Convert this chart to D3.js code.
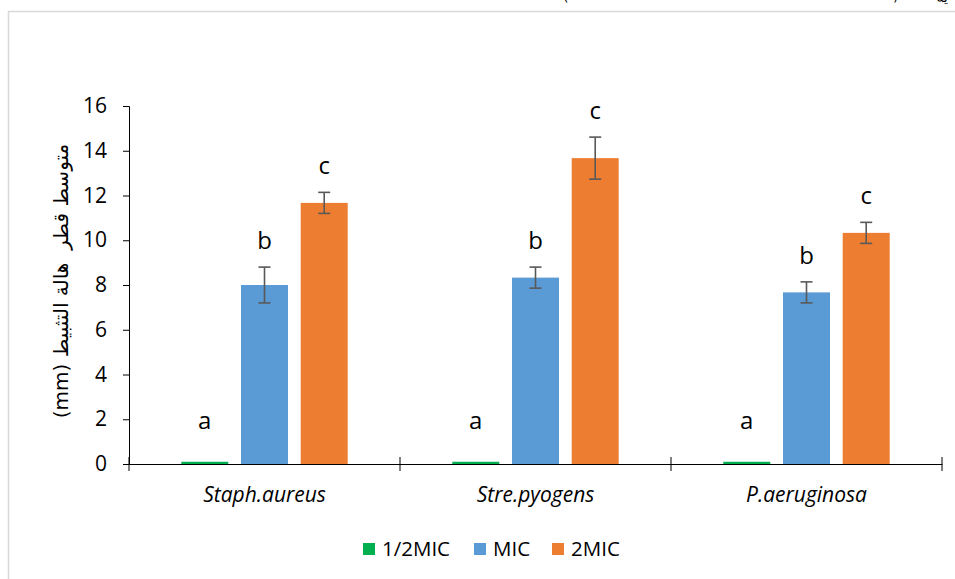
<!DOCTYPE html>
<html>
<head>
<meta charset="utf-8">
<script src="https://cdn.jsdelivr.net/npm/d3@7"></script>
<style>
  body { margin: 0; background: #fff; }
  svg { display: block; }
</style>
</head>
<body>
<div id="chart"></div>
<script>
// chart data
const categories = ["Staph.aureus", "Stre.pyogens", "P.aeruginosa"];
const series = ["1/2MIC", "MIC", "2MIC"];
const halfMIC = [0.1, 0.1, 0.1];
const mic = [8.0, 8.33, 7.67];
const twoMIC = [11.67, 13.67, 10.33];
const micErr = [0.8, 0.47, 0.47];
const twoMICErr = [0.47, 0.94, 0.47];
const letters = ["a", "b", "c"];
const yTicks = [0, 2, 4, 6, 8, 10, 12, 14, 16];

const colors = ["#00b050", "#5b9bd5", "#ed7d31"];

const width = 955, height = 579;
const font = "'Open Sans', Lato, sans-serif";

const svg = d3.select("#chart")
    .append("svg")
    .attr("width", width)
    .attr("height", height);

// chart frame (runs past the page)
svg.append("rect")
    .attr("x", 8.5)
    .attr("y", 11.5)
    .attr("width", 970)
    .attr("height", 600)
    .attr("fill", "#fff")
    .attr("stroke", "#d9d9d9")
    .attr("stroke-width", 1.5);

// bits of a caption cut off above the page
svg.append("text").attr("x", 563).attr("y", 1).attr("font-size", 14).attr("font-family", "DejaVu Sans").text("(");
svg.append("text").attr("x", 893).attr("y", 1).attr("font-size", 14).attr("font-family", "DejaVu Sans").text(")");
svg.append("text").attr("x", 948).attr("y", 2).attr("font-size", 14).attr("font-family", "DejaVu Sans").attr("text-anchor", "end").text("ية");

const plotLeft = 129, plotRight = 942, plotTop = 106, plotBottom = 464;

const y = d3.scaleLinear().domain([0, 16]).range([plotBottom, plotTop]);

const x0 = d3.scaleBand()
    .domain(categories)
    .range([plotLeft, plotRight])
    .padding(0);

const x1 = d3.scaleBand()
    .domain(series)
    .range([0, x0.bandwidth()])
    .paddingInner(0.213)
    .paddingOuter(0.876);

const rows = categories.map((c, i) => ({
    cat: c,
    vals: [
        {s: series[0], v: halfMIC[i], e: 0, l: letters[0]},
        {s: series[1], v: mic[i], e: micErr[i], l: letters[1]},
        {s: series[2], v: twoMIC[i], e: twoMICErr[i], l: letters[2]}
    ]
}));

// bars
const groups = svg.selectAll(".grp")
    .data(rows)
    .enter()
    .append("g")
    .attr("class", "grp")
    .attr("transform", d => `translate(${x0(d.cat)},0)`);

groups.selectAll("rect")
    .data(d => d.vals)
    .enter()
    .append("rect")
    .attr("x", d => x1(d.s))
    .attr("y", d => y(d.v))
    .attr("width", x1.bandwidth())
    .attr("height", d => y(0) - y(d.v))
    .attr("fill", (d, i) => colors[i]);

// error bars
const eb = groups.selectAll(".err")
    .data(d => d.vals.filter(v => v.e > 0))
    .enter()
    .append("g")
    .attr("class", "err")
    .attr("stroke", "#595959")
    .attr("stroke-width", 1.6);

const cx = d => x1(d.s) + x1.bandwidth() / 2;
eb.append("line")
    .attr("x1", cx).attr("x2", cx)
    .attr("y1", d => y(d.v + d.e)).attr("y2", d => y(d.v - d.e));
eb.append("line")
    .attr("x1", d => cx(d) - 6).attr("x2", d => cx(d) + 6)
    .attr("y1", d => y(d.v + d.e)).attr("y2", d => y(d.v + d.e));
eb.append("line")
    .attr("x1", d => cx(d) - 6).attr("x2", d => cx(d) + 6)
    .attr("y1", d => y(d.v - d.e)).attr("y2", d => y(d.v - d.e));

// significance letters
groups.selectAll(".lbl")
    .data(d => d.vals)
    .enter()
    .append("text")
    .attr("class", "lbl")
    .attr("x", cx)
    .attr("y", d => Math.min(y(d.v + d.e) - 18, y(0) - 35))
    .attr("text-anchor", "middle")
    .attr("font-family", font)
    .attr("font-size", 24)
    .text(d => d.l);

// y axis
const yAxis = svg.append("g")
    .attr("transform", `translate(${plotLeft},0)`)
    .call(d3.axisLeft(y).tickValues(yTicks).tickSize(6).tickPadding(16));
yAxis.select(".domain").attr("stroke", "#000");
yAxis.selectAll(".tick line").attr("stroke", "#000");
yAxis.selectAll(".tick text")
    .attr("font-family", font)
    .attr("font-size", 21)
    .attr("fill", "#000");

// x axis
const xAxis = svg.append("g")
    .attr("transform", `translate(0,${plotBottom})`)
    .call(d3.axisBottom(x0).tickSize(0).tickPadding(23));
xAxis.select(".domain").attr("stroke", "#000");
xAxis.selectAll(".tick text")
    .attr("font-family", font)
    .attr("font-size", 21)
    .attr("font-style", "italic")
    .attr("fill", "#000");

// category separators crossing the x axis
const seps = [plotLeft].concat(categories.map(c => x0(c) + x0.bandwidth()));
svg.selectAll(".sep")
    .data(seps)
    .enter()
    .append("line")
    .attr("x1", d => d).attr("x2", d => d)
    .attr("y1", plotBottom - 7).attr("y2", plotBottom + 7)
    .attr("stroke", "#000");

// y axis title
svg.append("text")
    .attr("transform", `translate(68,${(plotTop + plotBottom) / 2 - 4}) rotate(-90)`)
    .attr("text-anchor", "middle")
    .attr("direction", "rtl")
    .style("white-space", "pre")
    .attr("font-family", "'DejaVu Sans', " + font)
    .attr("font-size", 20)
    .text("متوسط قطر  هالة التثبيط (mm)");

// legend
const legendX = [363, 474, 552];
const legend = svg.selectAll(".leg")
    .data(series)
    .enter()
    .append("g")
    .attr("class", "leg")
    .attr("transform", (d, i) => `translate(${legendX[i]},543)`);
legend.append("rect")
    .attr("width", 12)
    .attr("height", 12)
    .attr("fill", (d, i) => colors[i]);
legend.append("text")
    .attr("x", 19)
    .attr("y", 13)
    .attr("font-family", font)
    .attr("font-size", 20.5)
    .text(d => d);
</script>
</body>
</html>
